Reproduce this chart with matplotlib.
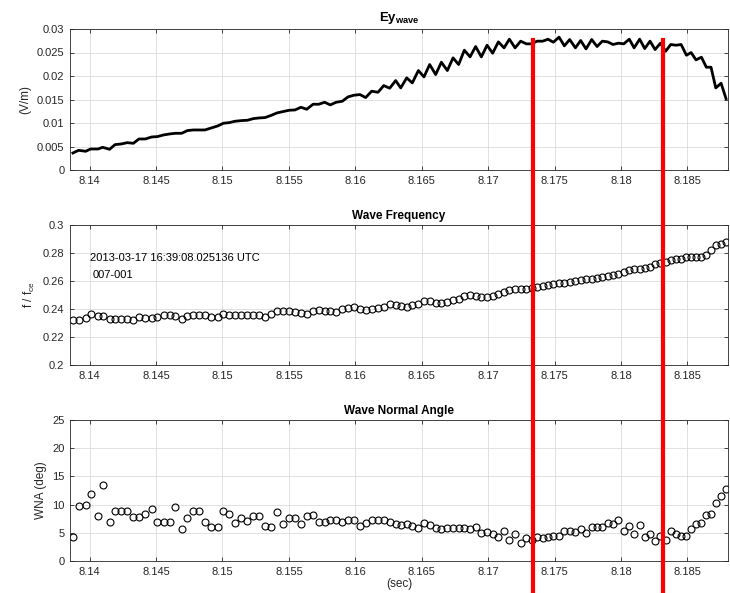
import matplotlib
matplotlib.use('Agg')
import matplotlib.pyplot as plt
import matplotlib.transforms as mtransforms
from matplotlib.ticker import FuncFormatter
import numpy as np

plt.rcParams['font.family'] = ['Liberation Sans', 'DejaVu Sans']
plt.rcParams['mathtext.fontset'] = 'custom'
plt.rcParams['mathtext.rm'] = 'Liberation Sans'
plt.rcParams['mathtext.it'] = 'Liberation Sans'
plt.rcParams['mathtext.bf'] = 'Liberation Sans:bold'

# sample times, ms after 8.14 s
t_ms = [-1.26, -0.83, -0.30, 0.07, 0.63, 0.98, 1.50, 1.91, 2.38, 2.83,
        3.29, 3.71, 4.19, 4.67, 5.09, 5.57, 6.02, 6.45, 6.93, 7.35,
        7.80, 8.26, 8.68, 9.16, 9.64, 10.06, 10.51, 10.94, 11.42, 11.87,
        12.32, 12.77, 13.20, 13.68, 14.10, 14.56, 15.01, 15.46, 15.91, 16.34,
        16.82, 17.24, 17.69, 18.12, 18.55, 19.02, 19.45, 19.88, 20.35, 20.78,
        21.23, 21.71, 22.14, 22.59, 23.04, 23.42, 23.87, 24.29, 24.75, 25.17,
        25.60, 26.05, 26.48, 26.93, 27.36, 27.78, 28.21, 28.64, 29.06, 29.49,
        29.92, 30.34, 30.77, 31.20, 31.60, 32.03, 32.45, 32.88, 33.28, 33.68,
        34.11, 34.51, 34.91, 35.34, 35.74, 36.14, 36.57, 36.97, 37.37, 37.80,
        38.20, 38.60, 39.00, 39.40, 39.81, 40.21, 40.63, 40.99, 41.41, 41.79,
        42.19, 42.57, 42.97, 43.37, 43.75, 44.15, 44.53, 44.93, 45.28, 45.65,
        46.06, 46.43, 46.78, 47.14, 47.54, 47.91]

ey_wave = [0.00362, 0.00419, 0.00398, 0.00447, 0.00447, 0.00483, 0.00440, 0.00540, 0.00554, 0.00582,
           0.00568, 0.00660, 0.00660, 0.00703, 0.00710, 0.00746, 0.00767, 0.00781, 0.00781, 0.00838,
           0.00852, 0.00852, 0.00852, 0.00895, 0.00937, 0.00994, 0.01008, 0.01037, 0.01051, 0.01058,
           0.01093, 0.01108, 0.01115, 0.01164, 0.01214, 0.01243, 0.01271, 0.01278, 0.01335, 0.01292,
           0.01399, 0.01399, 0.01441, 0.01385, 0.01441, 0.01463, 0.01555, 0.01590, 0.01605, 0.01541,
           0.01676, 0.01654, 0.01796, 0.01740, 0.01903, 0.01747, 0.01960, 0.01853, 0.02116, 0.01981,
           0.02244, 0.02031, 0.02293, 0.02116, 0.02386, 0.02244, 0.02549, 0.02407, 0.02627, 0.02407,
           0.02655, 0.02485, 0.02726, 0.02599, 0.02783, 0.02599, 0.02741, 0.02684, 0.02684, 0.02741,
           0.02741, 0.02783, 0.02719, 0.02826, 0.02641, 0.02776, 0.02599, 0.02755, 0.02577, 0.02776,
           0.02627, 0.02741, 0.02726, 0.02670, 0.02698, 0.02684, 0.02783, 0.02599, 0.02783, 0.02584,
           0.02741, 0.02563, 0.02698, 0.02528, 0.02670, 0.02655, 0.02670, 0.02442, 0.02499, 0.02343,
           0.02400, 0.02187, 0.02187, 0.01747, 0.01846, 0.01519]

f_fce = [0.2322, 0.2322, 0.2334, 0.2363, 0.2351, 0.2351, 0.2329, 0.2332, 0.2332, 0.2332,
         0.2318, 0.2346, 0.2339, 0.2339, 0.2346, 0.2356, 0.2356, 0.2353, 0.2329, 0.2353,
         0.2356, 0.2356, 0.2356, 0.2341, 0.2346, 0.2365, 0.2358, 0.2356, 0.2356, 0.2356,
         0.2356, 0.2358, 0.2346, 0.2365, 0.2384, 0.2386, 0.2384, 0.2377, 0.2370, 0.2367,
         0.2389, 0.2391, 0.2386, 0.2384, 0.2379, 0.2398, 0.2405, 0.2412, 0.2403, 0.2393,
         0.2398, 0.2405, 0.2415, 0.2436, 0.2431, 0.2422, 0.2417, 0.2427, 0.2436, 0.2455,
         0.2455, 0.2446, 0.2441, 0.2453, 0.2465, 0.2474, 0.2491, 0.2498, 0.2495, 0.2488,
         0.2483, 0.2495, 0.2507, 0.2521, 0.2536, 0.2543, 0.2545, 0.2545, 0.2552, 0.2559,
         0.2566, 0.2571, 0.2578, 0.2583, 0.2585, 0.2593, 0.2597, 0.2604, 0.2611, 0.2616,
         0.2623, 0.2628, 0.2638, 0.2645, 0.2652, 0.2661, 0.2678, 0.2683, 0.2687, 0.2694,
         0.2699, 0.2718, 0.2730, 0.2739, 0.2749, 0.2754, 0.2758, 0.2768, 0.2768, 0.2768,
         0.2768, 0.2789, 0.2825, 0.2858, 0.2867, 0.2877]

wna = [4.3, 9.7, 9.9, 11.8, 7.9, 13.4, 6.9, 8.8, 8.9, 8.8,
       7.8, 7.8, 8.3, 9.3, 7.0, 6.9, 6.9, 9.5, 5.7, 7.6,
       8.8, 8.8, 6.9, 6.0, 6.1, 8.8, 8.3, 6.8, 7.7, 7.1,
       7.9, 7.9, 6.2, 6.1, 8.6, 6.6, 7.6, 7.6, 6.6, 8.0,
       8.2, 6.9, 7.0, 7.3, 7.2, 6.9, 7.2, 7.2, 6.2, 6.7,
       7.3, 7.3, 7.2, 7.0, 6.6, 6.3, 6.5, 6.2, 5.9, 6.7,
       6.3, 5.9, 5.6, 5.9, 5.9, 5.9, 5.8, 5.7, 6.0, 4.9,
       5.2, 4.8, 4.2, 5.3, 3.8, 4.7, 3.2, 4.1, 3.8, 4.2,
       4.1, 4.2, 4.4, 4.4, 5.3, 5.4, 5.1, 5.6, 5.0, 6.1,
       6.1, 6.1, 6.7, 6.6, 7.2, 5.3, 6.2, 4.7, 6.3, 4.3,
       4.7, 3.6, 4.4, 3.8, 5.3, 4.7, 4.4, 4.4, 5.7, 6.5,
       6.8, 8.1, 8.3, 10.2, 11.5, 12.7]

marks = [8.17336, 8.18315]
xlim = (8.13852, 8.18806)
stamp = '2013-03-17 16:39:08.025136 UTC'
event = '007-001'

t = 8.14 + np.array(t_ms) / 1000.0

W, H = 730, 593
fig = plt.figure(figsize=(W / 100, H / 100), dpi=100)

dark = '#262626'


def style(ax, ylim, yticks):
    ax.set_xlim(*xlim)
    ax.set_ylim(*ylim)
    ax.set_yticks(yticks)
    ax.set_xticks([8.14, 8.145, 8.15, 8.155, 8.16, 8.165, 8.17, 8.175, 8.18, 8.185])
    fmt = FuncFormatter(lambda v, p: '%g' % round(v, 6))
    ax.xaxis.set_major_formatter(fmt)
    ax.yaxis.set_major_formatter(fmt)
    ax.grid(True, color='#dcdcdc', linewidth=0.6)
    ax.set_axisbelow(True)
    ax.tick_params(direction='in', length=3, width=0.6, labelsize=8,
                   colors=dark, top=True, right=True, pad=4)
    for s in ax.spines.values():
        s.set_color(dark)
        s.set_linewidth(0.6)


left = 70 / W
width = 658 / W
ax1 = fig.add_axes([left, 1 - 170 / H, width, 141 / H])
ax2 = fig.add_axes([left, 1 - 365 / H, width, 140 / H])
ax3 = fig.add_axes([left, 1 - 561 / H, width, 141 / H])

ax1.plot(t, ey_wave, color='black', linewidth=2.0)
style(ax1, (0, 0.03), [0, 0.005, 0.01, 0.015, 0.02, 0.025, 0.03])
ax1.set_ylabel('(V/m)', fontsize=8.5, color=dark)
ax1.set_title(r'$\mathbf{Ey_{wave}}$', fontsize=9.5, pad=6)

ax2.plot(t, f_fce, linestyle='none', marker='o', markersize=5,
         markerfacecolor='none', markeredgecolor='black', markeredgewidth=0.8)
style(ax2, (0.2, 0.3), [0.2, 0.22, 0.24, 0.26, 0.28, 0.3])
ax2.set_ylabel(r'f / f$_{\mathrm{ce}}$', fontsize=8.5, color=dark)
ax2.set_title('Wave Frequency', fontsize=8.5, fontweight='bold', pad=4)
ax2.text(8.14005, 0.2766, stamp, fontsize=8, va='center', ha='left')
ax2.text(8.1402, 0.2643, event, fontsize=8, va='center', ha='left')

ax3.plot(t, wna, linestyle='none', marker='o', markersize=5,
         markerfacecolor='none', markeredgecolor='black', markeredgewidth=0.8)
style(ax3, (0, 25), [0, 5, 10, 15, 20, 25])
ax3.set_ylabel('WNA (deg)', fontsize=8.5, color=dark)
ax3.set_xlabel('(sec)', fontsize=8.5, color=dark, labelpad=1)
ax3.set_title('Wave Normal Angle', fontsize=8.5, fontweight='bold', pad=4)

# red markers span all three panels
trans = mtransforms.blended_transform_factory(ax1.transData, fig.transFigure)
for m in marks:
    fig.add_artist(plt.Line2D([m, m], [0, 1 - 40 / H], transform=trans,
                              color='red', linewidth=3, clip_on=False))

fig.savefig('out.png', dpi=100)
